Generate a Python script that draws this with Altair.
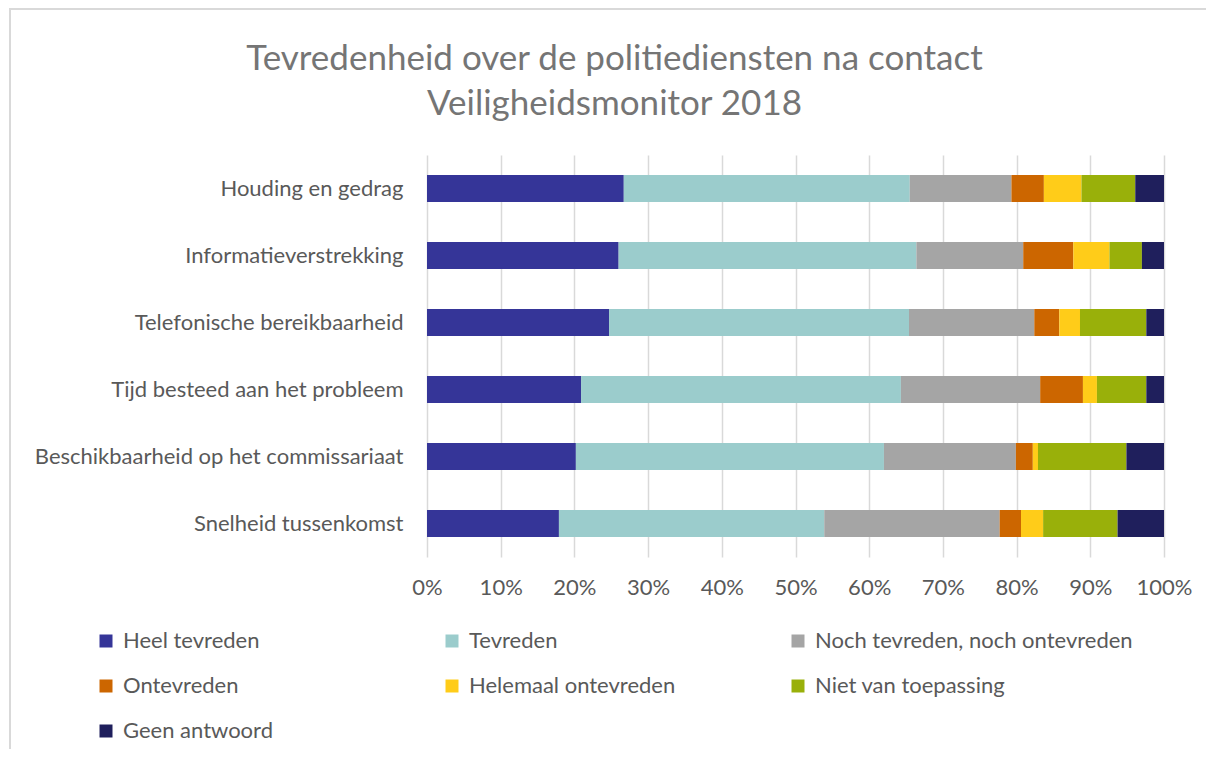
import altair as alt
import pandas as pd

categories = [
    "Houding en gedrag",
    "Informatieverstrekking",
    "Telefonische bereikbaarheid",
    "Tijd besteed aan het probleem",
    "Beschikbaarheid op het commissariaat",
    "Snelheid tussenkomst",
]
series = [
    "Heel tevreden",
    "Tevreden",
    "Noch tevreden, noch ontevreden",
    "Ontevreden",
    "Helemaal ontevreden",
    "Niet van toepassing",
    "Geen antwoord",
]
colors = ["#353598", "#9bcccc", "#a5a5a5", "#cc6600", "#ffcc19", "#99b00a", "#1f1f5c"]

heel_tevreden = [26.7, 26.0, 24.7, 20.9, 20.2, 17.9]
tevreden = [38.8, 40.4, 40.7, 43.4, 41.8, 36.0]
noch = [13.8, 14.5, 17.0, 18.9, 17.9, 23.8]
ontevreden = [4.4, 6.8, 3.4, 5.8, 2.3, 2.9]
helemaal = [5.1, 4.9, 2.8, 1.9, 0.7, 3.0]
niet_van_toepassing = [7.3, 4.4, 9.0, 6.7, 12.0, 10.1]
geen_antwoord = [3.9, 3.0, 2.4, 2.4, 5.1, 6.3]

values = [heel_tevreden, tevreden, noch, ontevreden, helemaal, niet_van_toepassing, geen_antwoord]

rows = []
for si, (s, vals) in enumerate(zip(series, values)):
    for c, v in zip(categories, vals):
        rows.append({"categorie": c, "reeks": s, "volgorde": si, "waarde": v / 100.0})
df = pd.DataFrame(rows)

FONT = "Lato"
TXT = "#595959"
FS = 22

bars = alt.Chart(df).mark_bar(size=27).encode(
    y=alt.Y(
        "categorie:N",
        sort=categories,
        title=None,
        scale=alt.Scale(paddingInner=0.6, paddingOuter=0.3),
        axis=alt.Axis(
            labelFont=FONT, labelFontSize=FS, labelColor=TXT, labelPadding=24,
            ticks=False, domain=False, grid=False, labelLimit=500,
        ),
    ),
    x=alt.X(
        "waarde:Q",
        stack="normalize",
        title=None,
        scale=alt.Scale(domain=[0, 1], nice=False),
        axis=alt.Axis(
            format="%", values=[i / 10 for i in range(11)],
            labelFont=FONT, labelFontSize=FS, labelColor=TXT, labelPadding=20,
            labelOverlap=False, labelFlush=False,
            ticks=False, domain=False, grid=True, gridColor="#d9d9d9", gridWidth=1.5,
        ),
    ),
    color=alt.Color(
        "reeks:N",
        sort=series,
        scale=alt.Scale(domain=series, range=colors),
        legend=alt.Legend(
            title=None, orient="none", legendX=-332, legendY=475, direction="horizontal",
            columns=3, gridAlign="all", columnPadding=0, rowPadding=23,
            symbolType="square", symbolSize=169, symbolStrokeWidth=0,
            labelFont=FONT, labelFontSize=FS, labelColor=TXT, labelOffset=6,
            labelLimit=600, padding=0,
        ),
    ),
    order=alt.Order("volgorde:Q"),
)

border = alt.Chart(pd.DataFrame({"a": [0]})).mark_rect(
    fill=None, stroke="#d9d9d9", strokeWidth=2
).encode(
    x=alt.value(-417), x2=alt.value(840), y=alt.value(-146), y2=alt.value(660)
)

chart = alt.layer(border, bars).properties(
    width=737,
    height=402,
    autosize=alt.AutoSizeParams(type="none"),
    padding={"left": 419, "top": 147, "right": 42, "bottom": 192},
    title=alt.TitleParams(
        text=["Tevredenheid over de politiediensten na contact", "Veiligheidsmonitor 2018"],
        font=FONT, fontSize=35, fontWeight="normal", color="#757575",
        anchor="middle", frame="group", dx=-181, offset=-114, lineHeight=45,
    ),
).configure_view(stroke=None)

chart.save("out.html", embed_options={"renderer": "svg", "actions": False})
